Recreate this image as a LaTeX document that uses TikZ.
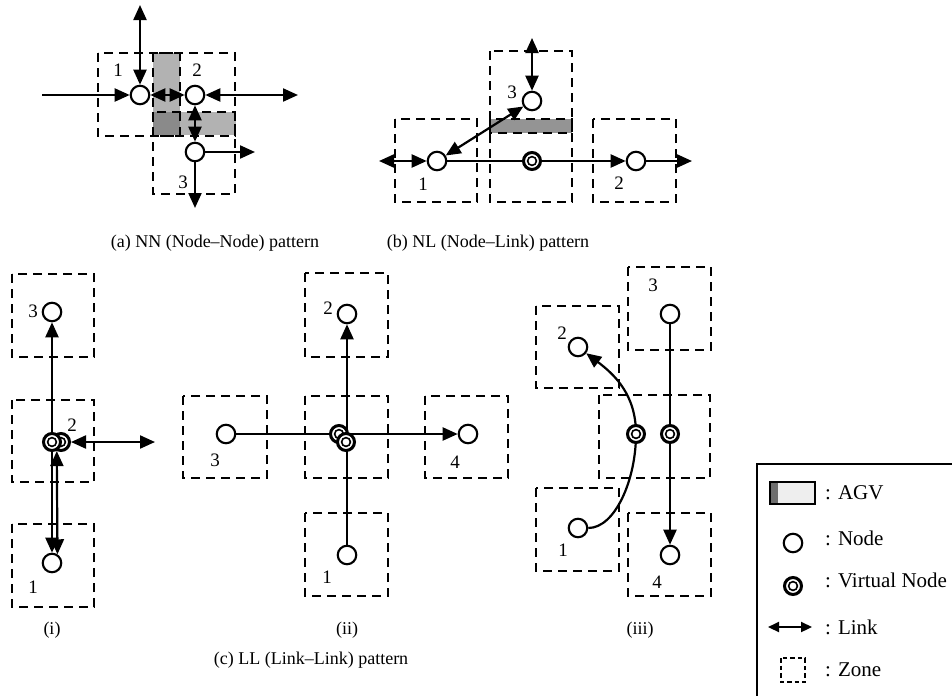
\documentclass[tikz,border=0pt]{standalone}
\usepackage{fontspec}
\setmainfont{Liberation Serif}
\usetikzlibrary{arrows.meta,backgrounds}

\definecolor{agvlight}{RGB}{178,178,178}
\definecolor{agvdark}{RGB}{138,138,138}
\definecolor{agvmid}{RGB}{148,148,148}
\definecolor{lgbody}{RGB}{238,238,238}
\definecolor{lgstrip}{RGB}{110,110,110}

\tikzset{
  >={Triangle[length=15pt,width=13pt]},
  pt/.style={circle, draw, line width=2.1pt, fill=white, minimum size=18.5pt, inner sep=0pt},
  vpt/.style={circle, draw, line width=3pt, fill=white, minimum size=17pt, inner sep=0pt,
    path picture={\draw[line width=1.6pt] (path picture bounding box.center) circle (4.4pt);}},
  zone/.style={draw, line width=1.6pt, dash pattern=on 9pt off 6pt},
  link/.style={line width=2.2pt},
  lab/.style={font=\fontsize{19}{21}\selectfont, inner sep=0pt},
  captext/.style={font=\fontsize{18}{21}\selectfont, inner sep=0pt},
  lgtext/.style={font=\fontsize{21}{25}\selectfont, inner sep=0pt, anchor=west},
}

\begin{document}
\begin{tikzpicture}[x=1pt,y=-1pt]
\useasboundingbox (0,0) rectangle (952,696);

% ---------------- (a) NN pattern ----------------
\node[pt] (a1) at (140,95) {};
\node[pt] (a2) at (195,95) {};
\node[pt] (a3) at (195,152) {};
\coordinate (aT) at (140,5);
\coordinate (aL) at (42,95);
\coordinate (aR) at (298,95);
\coordinate (aE) at (255,152);
\coordinate (aB) at (195,208);
\node[lab] (la1) at (118,70) {1};
\node[lab] (la2) at (197,70) {2};
\node[lab] (la3) at (183,182) {3};
\node[captext] (capa) at (215,243) {(a) NN (Node--Node) pattern};

% ---------------- (b) NL pattern ----------------
\node[pt] (b1) at (437,161) {};
\node[vpt] (bv) at (532,161) {};
\node[pt] (b3) at (532,101) {};
\node[pt] (b2) at (636,161) {};
\coordinate (bL) at (379,161);
\coordinate (bR) at (692,161);
\coordinate (bT) at (532,38);
\node[lab] (lb3) at (512,92) {3};
\node[lab] (lb1) at (423,184) {1};
\node[lab] (lb2) at (619,183) {2};
\node[captext] (capb) at (488,243) {(b) NL (Node--Link) pattern};

% ---------------- (c)(i) ----------------
\node[pt] (i3) at (52,312) {};
\node[vpt] (iv2) at (61,442) {};
\node[vpt] (iv1) at (52,442) {};
\node[pt] (i1) at (52,563) {};
\coordinate (iR) at (155,442);
\node[lab] (li3) at (33,311) {3};
\node[lab] (li2) at (72,425) {2};
\node[lab] (li1) at (33,587) {1};
\node[captext] (capi) at (52,630) {(i)};

% ---------------- (c)(ii) ----------------
\node[pt] (ii2) at (347,314) {};
\node[pt] (ii3) at (226,434) {};
\node[pt] (ii4) at (468,434) {};
\node[pt] (ii1) at (347,555) {};
\node[vpt] (iiA) at (339,434) {};
\node[vpt] (iiB) at (346,442) {};
\node[lab] (lii2) at (328,308) {2};
\node[lab] (lii3) at (215,460) {3};
\node[lab] (lii4) at (455,462) {4};
\node[lab] (lii1) at (327,577) {1};
\node[captext] (capii) at (347,630) {(ii)};

% ---------------- (c)(iii) ----------------
\node[pt] (iii3) at (670,314) {};
\node[pt] (iii2) at (578,347) {};
\node[pt] (iii1) at (578,528) {};
\node[pt] (iii4) at (670,555) {};
\node[vpt] (iiiv1) at (636,434) {};
\node[vpt] (iiiv2) at (670,434) {};
\node[lab] (liii3) at (653,285) {3};
\node[lab] (liii2) at (562,333) {2};
\node[lab] (liii1) at (563,550) {1};
\node[lab] (liii4) at (657,582) {4};
\node[captext] (capiii) at (640,630) {(iii)};

\node[captext] (capc) at (311,660) {(c) LL (Link--Link) pattern};

% ---------------- legend ----------------
\node[pt] (lgN) at (793,543) {};
\node[vpt] (lgV) at (793,586) {};
\coordinate (lgLa) at (768,627);
\coordinate (lgLb) at (812,627);
\node[lgtext] (tA) at (825,493) {: AGV};
\node[lgtext] (tN) at (825,538) {: Node};
\node[lgtext] (tV) at (825,580) {: Virtual Node};
\node[lgtext] (tL) at (825,627) {: Link};
\node[lgtext] (tZ) at (825,670) {: Zone};

\begin{scope}[on background layer]
  \fill[white] (0,0) rectangle (952,696);

  % vehicles
  \fill[agvlight] (153,53) rectangle (180,135);
  \fill[agvlight] (153,112) rectangle (236,135);
  \fill[agvdark] (153,112) rectangle (180,135);
  \fill[agvmid] (490,119) rectangle (572,133);

  % zones
  \draw[zone] (98,53) rectangle (180,136);
  \draw[zone] (153,53) rectangle (235,136);
  \draw[zone] (153,112) rectangle (235,194);

  \draw[zone] (395,119) rectangle (477,202);
  \draw[zone] (490,119) rectangle (572,202);
  \draw[zone] (490,51) rectangle (572,133);
  \draw[zone] (593,119) rectangle (676,202);

  \draw[zone] (12,274) rectangle (94,357);
  \draw[zone] (12,400) rectangle (94,482);
  \draw[zone] (12,524) rectangle (94,607);

  \draw[zone] (305,273) rectangle (388,357);
  \draw[zone] (305,396) rectangle (388,478);
  \draw[zone] (183,396) rectangle (267,478);
  \draw[zone] (425,396) rectangle (508,478);
  \draw[zone] (305,513) rectangle (388,596);

  \draw[zone] (628,267) rectangle (711,350);
  \draw[zone] (536,306) rectangle (619,388);
  \draw[zone] (599,395) rectangle (710,478);
  \draw[zone] (536,488) rectangle (619,571);
  \draw[zone] (628,513) rectangle (711,596);

  % links (a)
  \draw[link,<->] (aT) -- (a1);
  \draw[link,->] (aL) -- (a1);
  \draw[link,<->] (a1) -- (a2);
  \draw[link,<->] (a2) -- (aR);
  \draw[link,<->] (a2) -- (a3);
  \draw[link,->] (a3) -- (aE);
  \draw[link,->] (a3) -- (aB);

  % links (b)
  \draw[link,<->] (bL) -- (b1);
  \draw[link,->] (b1) -- (b2);
  \draw[link,->] (b2) -- (bR);
  \draw[link,<->] (bT) -- (b3);
  \draw[link,<->] (b1) -- (b3);

  % links (i)
  \draw[link,->] (iv1) -- (i3);
  \draw[link,->] (iv1) -- (i1);
  \draw[link,<->] (iv2.-115) -- (i1.58);
  \draw[link,<->] (iv2) -- (iR);

  % links (ii)
  \draw[link,->] (ii1) -- (ii2);
  \draw[link,->] (ii3) -- (ii4);

  % links (iii)
  \draw[link,->] (iii1) .. controls (615,528) and (636,480) .. (iiiv1.center)
                        .. controls (636,395) and (615,375) .. (iii2);
  \draw[link,->] (iii3) -- (iii4);

  % legend frame and symbols
  \draw[line width=1.5pt] (952,464) -- (757,464) -- (757,696);
  \draw[line width=1.5pt, fill=lgbody] (770,482) rectangle (815,504);
  \fill[lgstrip] (770,482) rectangle (778,504);
  \draw[line width=1.5pt] (770,482) rectangle (815,504);
  \draw[link,{Triangle[length=11pt,width=10pt]}-{Triangle[length=11pt,width=10pt]}] (lgLa) -- (lgLb);
  \draw[line width=1.4pt, dash pattern=on 4.5pt off 3pt] (781,658) rectangle (805,682);
\end{scope}
\end{tikzpicture}
\end{document}
